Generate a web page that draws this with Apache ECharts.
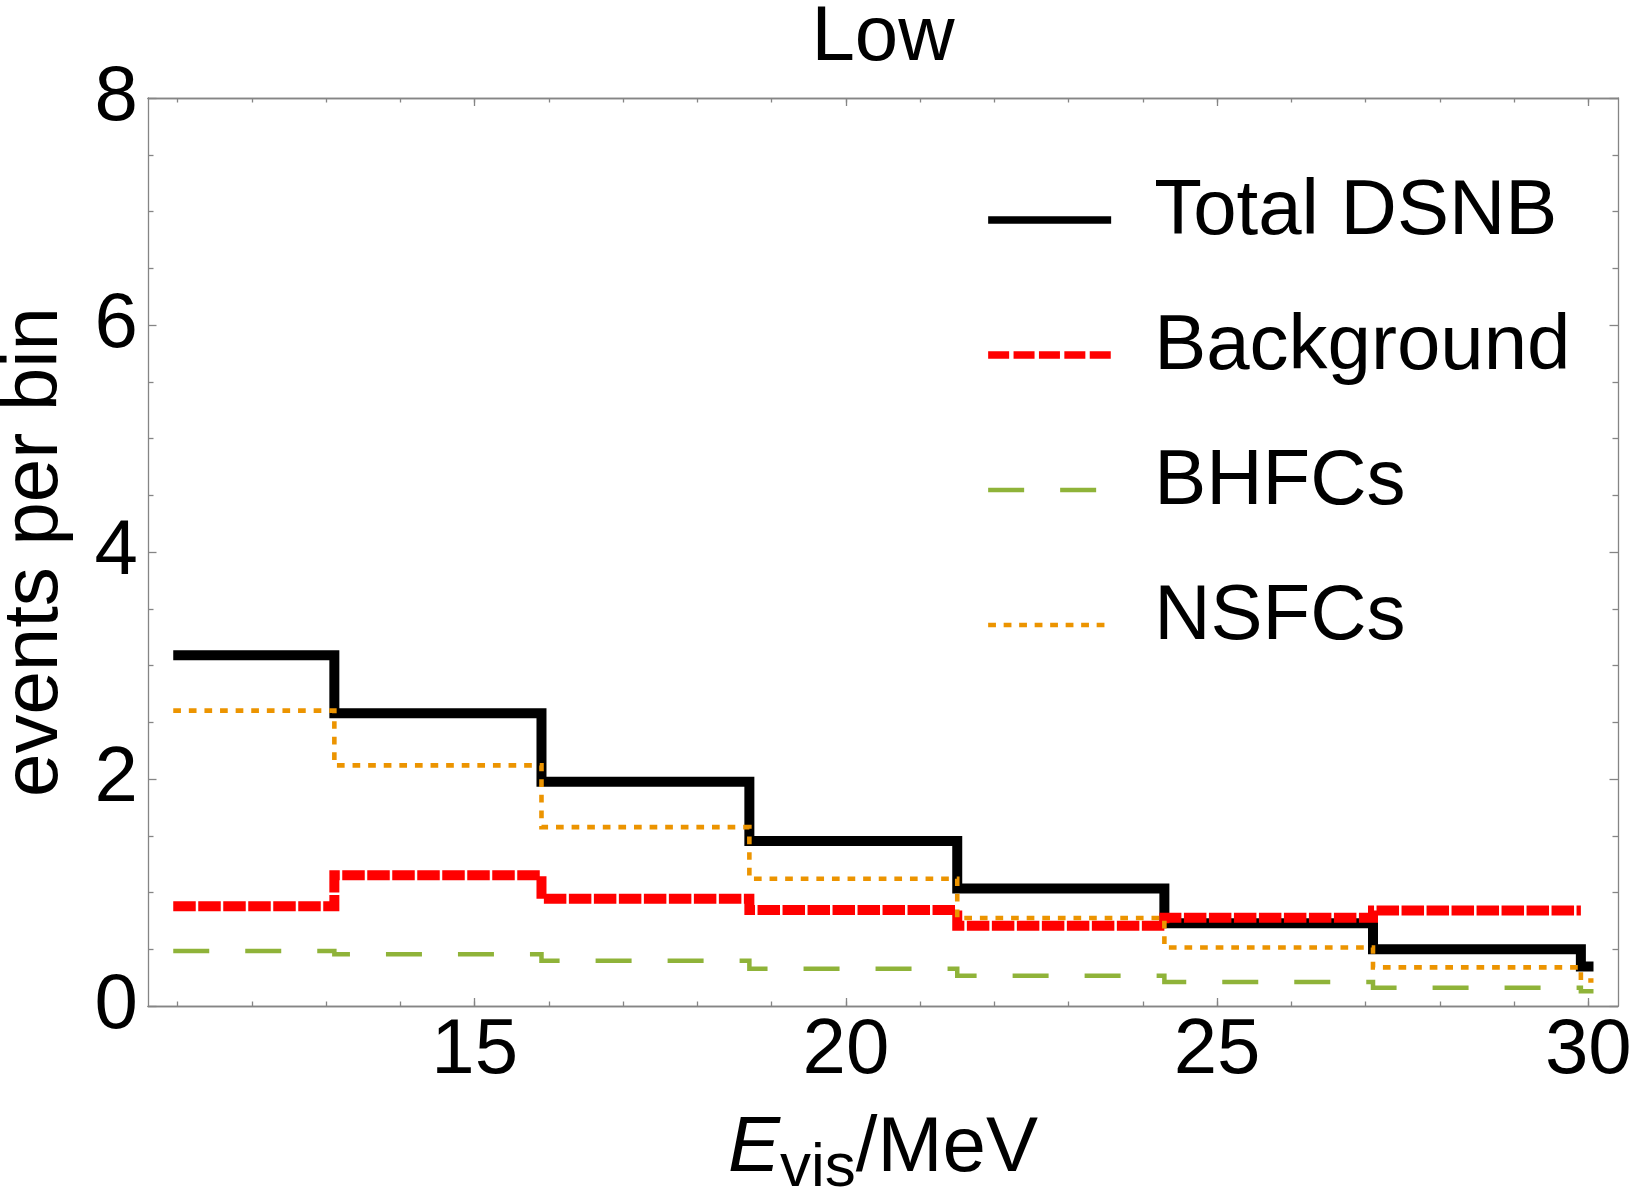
<!DOCTYPE html>
<html>
<head>
<meta charset="utf-8">
<title>Low</title>
<script src="https://cdn.jsdelivr.net/npm/echarts@6.0.0/dist/echarts.min.js"></script>
<style>
html, body { margin: 0; padding: 0; background: #fff; }
#container { width: 1634px; height: 1194px; }
</style>
</head>
<body>
<div id="container"></div>
<script>
// bin edges (MeV) and events per bin
var binEdges = [10.94, 13.11, 15.90, 18.70, 21.50, 24.29, 27.10, 29.90, 30.07];
var totalDSNB = [3.09, 2.58, 1.976, 1.453, 1.036, 0.728, 0.501, 0.347];
var background = [0.878, 1.151, 0.945, 0.845, 0.707, 0.777, 0.842];
var bhfcs = [0.484, 0.455, 0.399, 0.328, 0.267, 0.211, 0.161, 0.131];
var nsfcs = [2.602, 2.120, 1.576, 1.121, 0.775, 0.516, 0.340, 0.225];

var xMajorTicks = [15, 20, 25, 30];
var xMinorTicks = [11, 12, 13, 14, 15, 16, 17, 18, 19, 20, 21, 22, 23, 24, 25, 26, 27, 28, 29, 30];
var seriesNames = ['Total DSNB', 'Background', 'BHFCs', 'NSFCs'];

var FONT = 'Liberation Sans, Arial, Helvetica, sans-serif';
var FRAME = '#858585';

// histogram outline: one point per left edge, plus the last right edge
function steps(vals) {
	var pts = [];
	for (var i = 0; i < vals.length; i++) {
		pts.push([binEdges[i], vals[i]]);
	}
	pts.push([binEdges[vals.length], vals[vals.length - 1]]);
	return pts;
}

function xAxisDef(pos, ticks, len, labels) {
	return {
		type: 'value',
		position: pos,
		min: 10.6,
		max: 30.4,
		axisLine: { show: true, onZero: false, lineStyle: { color: FRAME, width: 1.3 } },
		axisTick: { show: true, inside: true, length: len, customValues: ticks, lineStyle: { color: FRAME, width: 1.3 } },
		axisLabel: labels ? {
			show: true, customValues: ticks, margin: 6,
			color: '#000', fontSize: 78, fontFamily: FONT
		} : { show: false },
		splitLine: { show: false }
	};
}

function yAxisDef(pos, labels) {
	return {
		type: 'value',
		position: pos,
		min: 0,
		max: 8,
		interval: 2,
		axisLine: { show: true, onZero: false, lineStyle: { color: FRAME, width: 1.3 } },
		axisTick: { show: true, inside: true, length: 8.5, lineStyle: { color: FRAME, width: 1.3 } },
		minorTick: { show: true, splitNumber: 4, length: 5.5, lineStyle: { color: FRAME, width: 1.3 } },
		axisLabel: labels ? { show: true, margin: 10, color: '#000', fontSize: 78, fontFamily: FONT } : { show: false },
		splitLine: { show: false },
		minorSplitLine: { show: false }
	};
}

var dom = document.getElementById('container');
var myChart = echarts.init(dom, null, { renderer: 'canvas' });

var xAxes = [
	xAxisDef('bottom', xMajorTicks, 8, true),
	xAxisDef('bottom', xMinorTicks, 4.5, false),
	xAxisDef('top', xMajorTicks, 8, false),
	xAxisDef('top', xMinorTicks, 4.5, false)
];
xAxes[0].name = '{e|E}{s|vis}{n|/MeV}';
xAxes[0].nameLocation = 'middle';
xAxes[0].nameGap = 92;
xAxes[0].nameMoveOverlap = false;
xAxes[0].nameTextStyle = {
	color: '#000', fontFamily: FONT, fontSize: 78,
	rich: {
		e: { fontStyle: 'italic', fontSize: 78, fontFamily: FONT, color: '#000' },
		s: { fontSize: 62, fontFamily: FONT, color: '#000', padding: [40, 0, 0, 0] },
		n: { fontSize: 78, fontFamily: FONT, color: '#000' }
	}
};

var yAxes = [yAxisDef('left', true), yAxisDef('right', false)];
yAxes[0].name = 'events per bin';
yAxes[0].nameLocation = 'middle';
yAxes[0].nameGap = 74;
yAxes[0].nameMoveOverlap = false;
yAxes[0].nameTextStyle = { color: '#000', fontFamily: FONT, fontSize: 78 };

var option = {
	animation: false,
	textStyle: { fontFamily: FONT },
	grid: { left: 148, top: 98, width: 1470, height: 908, outerBoundsMode: 'none' },
	graphic: [{
		type: 'text',
		x: 883,
		y: 38,
		style: { text: 'Low', fill: '#000', font: '78px ' + FONT, textAlign: 'center', textVerticalAlign: 'middle' }
	}],
	legend: {
		orient: 'vertical',
		left: 984.5,
		top: 173,
		padding: 0,
		itemWidth: 123,
		itemHeight: 20,
		itemGap: 57,
		selectedMode: false,
		itemStyle: { opacity: 0 },
		formatter: '{t|{name}}',
		textStyle: {
			color: '#000', fontSize: 78, fontFamily: FONT,
			rich: { t: { color: '#000', fontSize: 78, fontFamily: FONT, padding: [0, 0, 16, 38] } }
		},
		data: [
			{ name: seriesNames[0], lineStyle: { width: 7.3, type: 'solid' } },
			{ name: seriesNames[1], lineStyle: { width: 7.3, type: [21, 4.4] } },
			{ name: seriesNames[2], lineStyle: { width: 4.7, type: [36, 36] } },
			{ name: seriesNames[3], lineStyle: { width: 4.6, type: [7.8, 7.7] } }
		]
	},
	xAxis: xAxes,
	yAxis: yAxes,
	series: [
		{
			name: seriesNames[0], type: 'line', step: 'end', symbol: 'none', silent: true,
			data: steps(totalDSNB),
			itemStyle: { color: '#000000' },
			lineStyle: { color: '#000000', width: 10, cap: 'butt', join: 'miter' }
		},
		{
			name: seriesNames[1], type: 'line', step: 'end', symbol: 'none', silent: true,
			data: steps(background),
			itemStyle: { color: '#ff0000' },
			lineStyle: { color: '#ff0000', width: 10, type: [22.5, 2.5], cap: 'butt', join: 'miter' }
		},
		{
			name: seriesNames[2], type: 'line', step: 'end', symbol: 'none', silent: true,
			data: steps(bhfcs),
			itemStyle: { color: '#8fb339' },
			lineStyle: { color: '#8fb339', width: 4.5, type: [36, 36], cap: 'butt', join: 'miter' }
		},
		{
			name: seriesNames[3], type: 'line', step: 'end', symbol: 'none', silent: true,
			data: steps(nsfcs),
			itemStyle: { color: '#ec9400' },
			lineStyle: { color: '#ec9400', width: 4.6, type: [7.7, 7.9], cap: 'butt', join: 'miter' }
		}
	]
};
myChart.setOption(option, true);
</script>
</body>
</html>
